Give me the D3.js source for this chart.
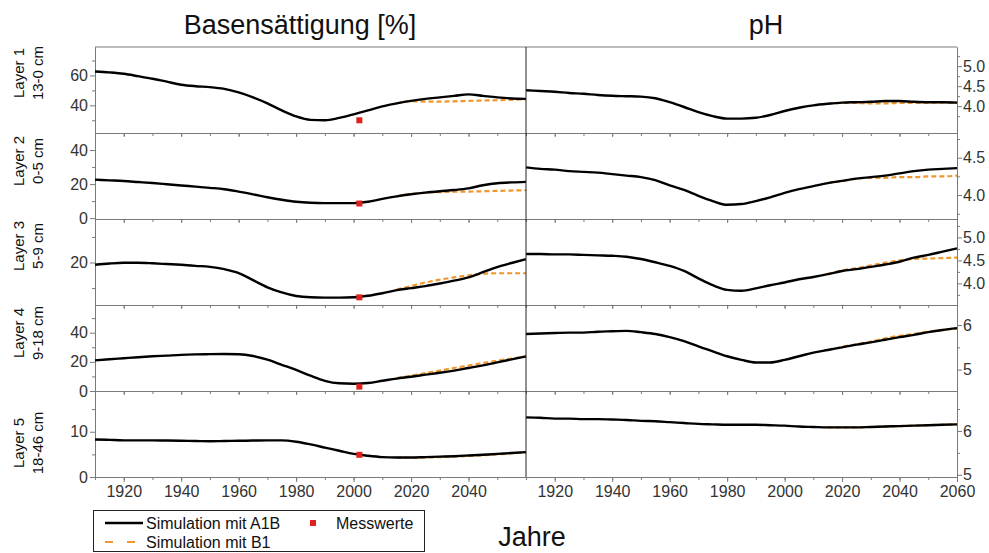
<!DOCTYPE html>
<html>
<head>
<meta charset="utf-8">
<script src="https://cdn.jsdelivr.net/npm/d3@7"></script>
<style>
  html, body { margin: 0; padding: 0; background: #fff; }
  svg { display: block; font-family: "Liberation Sans", Arial, sans-serif; }
</style>
</head>
<body>
<svg id="chart" width="989" height="553"></svg>
<script>
// Simulated years (5-year steps) for the A1B scenario
const years = d3.range(1910, 2061, 5);
// B1 scenario branches off the common history from 2015 onwards
const yearsB1 = d3.range(2015, 2061, 5);

const layerNames = ["Layer 1", "Layer 2", "Layer 3", "Layer 4", "Layer 5"];
const layerDepths = ["13-0 cm", "0-5 cm", "5-9 cm", "9-18 cm", "18-46 cm"];

// Base saturation [%], scenario A1B
const bsA1B_L1 = [62.6, 62, 61.1, 59.5, 57.8, 55.8, 53.8, 52.8, 52.2, 51, 48.6, 45.3, 41.3, 36.6, 32.6, 30.3, 30, 31.6, 34, 36.6, 39.3, 41.3, 43, 44.3, 45.3, 46.3, 47.3, 46.3, 45.3, 44.6, 44.3];
const bsA1B_L2 = [22.6, 22.2, 21.8, 21.2, 20.6, 19.9, 19.2, 18.5, 17.8, 17, 15.6, 14, 12.3, 10.8, 9.6, 9.0, 8.8, 8.8, 8.8, 9.6, 11.3, 12.8, 14, 15, 15.8, 16.5, 17.5, 19.3, 20.5, 21, 21.3];
const bsA1B_L3 = [19.1, 19.6, 19.9, 19.9, 19.7, 19.4, 19.1, 18.7, 18.3, 17.4, 15.9, 13.1, 10.3, 8.3, 6.9, 6.4, 6.3, 6.3, 6.4, 7.0, 8.0, 9.2, 10.0, 10.8, 11.8, 12.9, 14.2, 16.2, 18.2, 19.8, 21.3];
const bsA1B_L4 = [21, 21.8, 22.5, 23.2, 23.8, 24.3, 24.8, 25.1, 25.3, 25.4, 25.2, 24, 21.5, 18, 14.5, 10.5, 7, 5.3, 5.0, 5.5, 7, 8.5, 9.8, 11.2, 12.5, 14, 15.8, 17.6, 19.6, 21.7, 23.8];
const bsA1B_L5 = [8.3, 8.2, 8.1, 8.1, 8.1, 8.05, 8.0, 7.95, 7.9, 7.95, 8.0, 8.05, 8.1, 8.1, 7.8, 7.2, 6.5, 5.8, 5.1, 4.7, 4.4, 4.3, 4.3, 4.4, 4.5, 4.6, 4.75, 4.9, 5.1, 5.3, 5.5];

// Base saturation [%], scenario B1
const bsB1_L1 = [41.3, 42.8, 42.5, 42.5, 42.7, 43, 43.2, 43.4, 43.7, 44];
const bsB1_L2 = [12.8, 14.2, 15.0, 15.3, 15.5, 15.6, 15.8, 16, 16.2, 16.4];
const bsB1_L3 = [9.4, 10.8, 12.2, 13.3, 14.2, 15.0, 15.6, 15.8, 15.8, 15.8];
const bsB1_L4 = [8.8, 10.5, 12.3, 14, 15.8, 17.5, 19.2, 20.8, 22.3, 23.5];
const bsB1_L5 = [4.3, 4.25, 4.3, 4.4, 4.5, 4.65, 4.8, 5.0, 5.25, 5.45];

// pH, scenario A1B
const phA1B_L1 = [4.4, 4.38, 4.36, 4.33, 4.31, 4.28, 4.26, 4.25, 4.24, 4.2, 4.1, 3.98, 3.85, 3.75, 3.69, 3.69, 3.71, 3.78, 3.88, 3.96, 4.02, 4.06, 4.09, 4.1, 4.11, 4.13, 4.13, 4.11, 4.1, 4.1, 4.09];
const phA1B_L2 = [4.37, 4.35, 4.34, 4.32, 4.31, 4.3, 4.28, 4.26, 4.24, 4.2, 4.13, 4.07, 3.99, 3.92, 3.87, 3.88, 3.92, 3.97, 4.03, 4.08, 4.12, 4.16, 4.19, 4.22, 4.24, 4.26, 4.29, 4.32, 4.34, 4.35, 4.36];
const phA1B_L3 = [4.64, 4.64, 4.63, 4.63, 4.62, 4.61, 4.6, 4.58, 4.53, 4.46, 4.38, 4.27, 4.11, 3.96, 3.86, 3.84, 3.89, 3.96, 4.02, 4.09, 4.14, 4.2, 4.27, 4.31, 4.36, 4.41, 4.47, 4.56, 4.62, 4.69, 4.76];
const phA1B_L4 = [5.8, 5.81, 5.82, 5.83, 5.83, 5.85, 5.86, 5.87, 5.84, 5.8, 5.73, 5.64, 5.52, 5.41, 5.3, 5.22, 5.16, 5.16, 5.22, 5.3, 5.38, 5.44, 5.5, 5.56, 5.61, 5.67, 5.73, 5.78, 5.84, 5.89, 5.93];
const phA1B_L5 = [6.31, 6.3, 6.28, 6.28, 6.27, 6.27, 6.26, 6.25, 6.23, 6.22, 6.2, 6.18, 6.16, 6.15, 6.14, 6.14, 6.14, 6.13, 6.12, 6.1, 6.09, 6.08, 6.08, 6.08, 6.09, 6.1, 6.11, 6.12, 6.13, 6.14, 6.15];

// pH, scenario B1
const phB1_L1 = [4.06, 4.08, 4.08, 4.07, 4.07, 4.08, 4.08, 4.09, 4.09, 4.09];
const phB1_L2 = [4.16, 4.19, 4.22, 4.23, 4.23, 4.24, 4.24, 4.25, 4.25, 4.26];
const phB1_L3 = [4.2, 4.28, 4.33, 4.39, 4.45, 4.5, 4.53, 4.54, 4.55, 4.56];
const phB1_L4 = [5.44, 5.51, 5.57, 5.63, 5.7, 5.76, 5.8, 5.85, 5.89, 5.92];
const phB1_L5 = [6.08, 6.08, 6.08, 6.09, 6.1, 6.11, 6.12, 6.13, 6.14, 6.15];

// Measured base saturation [%] (2002 survey)
const measYear = 2002;
const measBS = [30, 8.6, 6.4, 3.0, 4.9];

// Axis domains and ticks per layer
const bsDomains = [[21.5, 79], [-0.5, 50], [3.4, 37], [0, 59], [0, 19]];
const bsMajor = [[40, 60], [0, 20, 40], [20], [0, 20, 40], [0, 10]];
const bsMinor = [[30, 50, 70], [10, 30], [10, 30], [10, 30, 50], [5, 15]];
const phDomains = [[3.33, 5.48], [3.68, 4.83], [3.53, 5.4], [4.52, 6.45], [4.95, 6.91]];
const phMajor = [[4.0, 4.5, 5.0], [4.0, 4.5], [4.0, 4.5, 5.0], [5, 6], [5, 6]];
const phMinor = [[3.75, 4.25, 4.75, 5.25], [3.75, 4.25, 4.75], [3.75, 4.25, 4.75, 5.25], [5.5], [5.5, 6.5]];
const phFormat = [".1f", ".1f", ".1f", "d", "d"];

// Year ticks: the base-saturation panel labels 1920-2040, the pH panel 1920-2060
const xTicksLeft = d3.range(1920, 2041, 20);
const xTicksRight = d3.range(1920, 2061, 20);
const xMinorTicks = d3.range(1910, 2061, 10);

const bsA1B = [bsA1B_L1, bsA1B_L2, bsA1B_L3, bsA1B_L4, bsA1B_L5];
const bsB1 = [bsB1_L1, bsB1_L2, bsB1_L3, bsB1_L4, bsB1_L5];
const phA1B = [phA1B_L1, phA1B_L2, phA1B_L3, phA1B_L4, phA1B_L5];
const phB1 = [phB1_L1, phB1_L2, phB1_L3, phB1_L4, phB1_L5];

const svg = d3.select("#chart");
const axisGray = "#7a7a7a";
const textCol = "#333";
const orange = "#f0962c";
const fontFam = "Liberation Sans, Arial, sans-serif";

const leftX0 = 95, midX = 526, rightX1 = 957;
const plotTop = 47, rowH = 86, nRows = 5;
const labelShift = [-17, -15, -16, -15, 9];

const xLeft = d3.scaleLinear().domain([1910, 2060]).range([leftX0, midX]);
const xRight = d3.scaleLinear().domain([1910, 2060]).range([midX, rightX1]);

const line = (x, y) => d3.line().x(d => x(d[0])).y(d => y(d[1])).curve(d3.curveMonotoneX);

// Titles
svg.append("text").attr("x", 300).attr("y", 34)
  .attr("text-anchor", "middle").attr("font-size", 27).attr("fill", "#111")
  .text("Basensättigung [%]");
svg.append("text").attr("x", 766).attr("y", 34)
  .attr("text-anchor", "middle").attr("font-size", 27).attr("fill", "#111")
  .text("pH");

for (let i = 0; i < nRows; i++) {
  const y0 = plotTop + i * rowH, y1 = y0 + rowH;
  const yBS = d3.scaleLinear().domain(bsDomains[i]).range([y1, y0]);
  const yPH = d3.scaleLinear().domain(phDomains[i]).range([y1, y0]);
  const last = i === nRows - 1;

  // Left y axis (base saturation)
  const gL = svg.append("g").attr("transform", `translate(${leftX0},0)`);
  gL.call(d3.axisLeft(yBS).tickValues(bsMajor[i]).tickSize(5).tickSizeOuter(0).tickFormat(d3.format("d")));
  gL.append("g").call(d3.axisLeft(yBS).tickValues(bsMinor[i]).tickSize(3).tickSizeOuter(0).tickFormat(""));
  gL.selectAll(".domain").attr("stroke", axisGray);
  gL.selectAll(".tick line").attr("stroke", axisGray);
  gL.selectAll(".tick text").attr("font-size", 16).attr("fill", textCol)
    .attr("font-family", fontFam).attr("x", -7);

  // Right y axis (pH)
  const gR = svg.append("g").attr("transform", `translate(${rightX1},0)`);
  gR.call(d3.axisRight(yPH).tickValues(phMajor[i]).tickSize(5).tickSizeOuter(0).tickFormat(d3.format(phFormat[i])));
  gR.append("g").call(d3.axisRight(yPH).tickValues(phMinor[i]).tickSize(3).tickSizeOuter(0).tickFormat(""));
  gR.selectAll(".domain").attr("stroke", axisGray);
  gR.selectAll(".tick line").attr("stroke", axisGray);
  gR.selectAll(".tick text").attr("font-size", 16).attr("fill", textCol)
    .attr("font-family", fontFam).attr("x", 6);

  // Bottom x axes of each row
  [[xLeft, xTicksLeft], [xRight, xTicksRight]].forEach(([xs, tv]) => {
    const gx = svg.append("g").attr("transform", `translate(0,${y1})`);
    gx.call(d3.axisBottom(xs).tickValues(tv).tickSize(last ? 5 : 4).tickSizeOuter(0)
      .tickFormat(last ? d3.format("d") : ""));
    gx.append("g").call(d3.axisBottom(xs).tickValues(xMinorTicks).tickSize(3).tickSizeOuter(0).tickFormat(""));
    gx.selectAll(".domain").attr("stroke", axisGray);
    gx.selectAll(".tick line").attr("stroke", axisGray);
    gx.selectAll(".tick text").attr("font-size", 16).attr("fill", textCol)
      .attr("font-family", fontFam).attr("y", 9);
  });

  // Series
  const bsA = years.map((yr, k) => [yr, bsA1B[i][k]]);
  const bsB = yearsB1.map((yr, k) => [yr, bsB1[i][k]]);
  const phA = years.map((yr, k) => [yr, phA1B[i][k]]);
  const phB = yearsB1.map((yr, k) => [yr, phB1[i][k]]);

  svg.append("path").datum(bsB).attr("d", line(xLeft, yBS)).attr("fill", "none")
    .attr("stroke", orange).attr("stroke-width", 2.2).attr("stroke-dasharray", "5,3");
  svg.append("path").datum(bsA).attr("d", line(xLeft, yBS)).attr("fill", "none")
    .attr("stroke", "#000").attr("stroke-width", 2.4);
  svg.append("path").datum(phB).attr("d", line(xRight, yPH)).attr("fill", "none")
    .attr("stroke", orange).attr("stroke-width", 2.2).attr("stroke-dasharray", "5,3");
  svg.append("path").datum(phA).attr("d", line(xRight, yPH)).attr("fill", "none")
    .attr("stroke", "#000").attr("stroke-width", 2.4);

  // Measured value
  svg.append("rect").attr("x", xLeft(measYear) - 3).attr("y", yBS(measBS[i]) - 3)
    .attr("width", 6).attr("height", 6).attr("fill", "#e0201c");

  // Row labels
  const cy = (y0 + y1) / 2 + labelShift[i];
  svg.append("text").attr("transform", `translate(24,${cy}) rotate(-90)`)
    .attr("text-anchor", "middle").attr("font-size", 15).attr("fill", "#111").text(layerNames[i]);
  svg.append("text").attr("transform", `translate(43,${cy}) rotate(-90)`)
    .attr("text-anchor", "middle").attr("font-size", 15).attr("fill", "#111").text(layerDepths[i]);
}

// Frame: top border and centre divider
svg.append("line").attr("x1", leftX0).attr("x2", rightX1).attr("y1", plotTop).attr("y2", plotTop).attr("stroke", axisGray);
svg.append("line").attr("x1", midX).attr("x2", midX).attr("y1", plotTop).attr("y2", plotTop + nRows * rowH).attr("stroke", "#222");

// X axis title
svg.append("text").attr("x", 532).attr("y", 546).attr("text-anchor", "middle")
  .attr("font-size", 27).attr("fill", "#111").text("Jahre");

// Legend
const lg = svg.append("g");
lg.append("rect").attr("x", 93.5).attr("y", 510.5).attr("width", 331).attr("height", 41)
  .attr("fill", "#fff").attr("stroke", "#222");
lg.append("line").attr("x1", 105).attr("x2", 143).attr("y1", 523).attr("y2", 523).attr("stroke", "#000").attr("stroke-width", 2.4);
lg.append("text").attr("x", 146).attr("y", 528.5).attr("font-size", 16).attr("fill", "#111").text("Simulation mit A1B");
lg.append("rect").attr("x", 310).attr("y", 520).attr("width", 6).attr("height", 6).attr("fill", "#e0201c");
lg.append("text").attr("x", 336).attr("y", 528.5).attr("font-size", 16).attr("fill", "#111").text("Messwerte");
lg.append("line").attr("x1", 105).attr("x2", 143).attr("y1", 542).attr("y2", 542).attr("stroke", orange)
  .attr("stroke-width", 2.2).attr("stroke-dasharray", "8,14");
lg.append("text").attr("x", 146).attr("y", 547.5).attr("font-size", 16).attr("fill", "#111").text("Simulation mit B1");
</script>
</body>
</html>
